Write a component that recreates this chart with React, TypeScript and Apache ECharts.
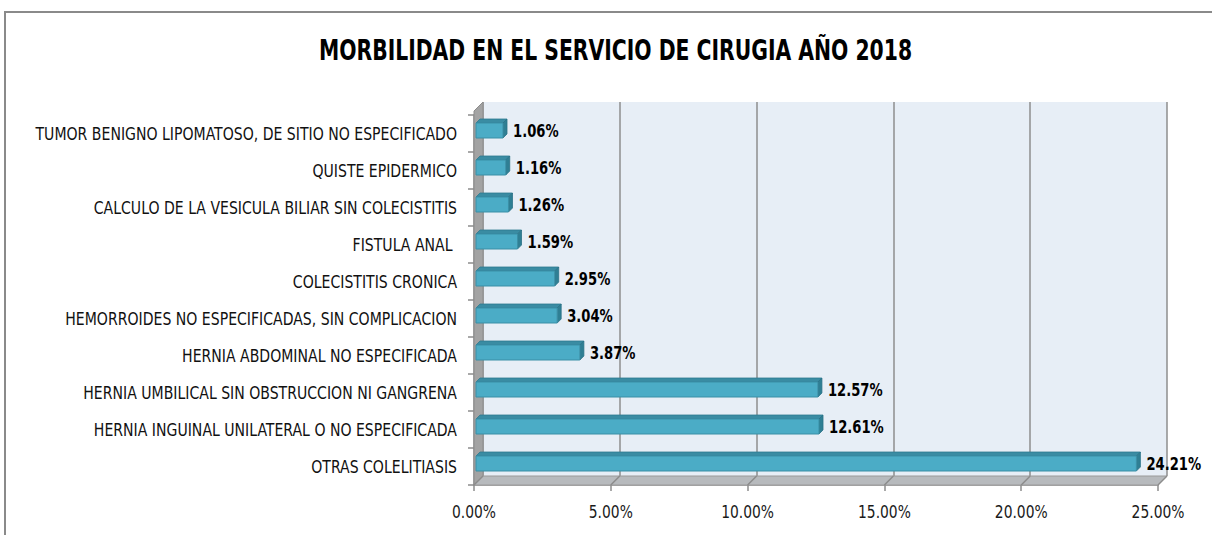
import React, { useEffect, useRef } from "react";
import * as echarts from "echarts";

const title = "MORBILIDAD EN EL SERVICIO DE CIRUGIA AÑO 2018";
const categories = [
  "OTRAS COLELITIASIS",
  "HERNIA INGUINAL UNILATERAL O NO ESPECIFICADA",
  "HERNIA UMBILICAL SIN OBSTRUCCION NI GANGRENA",
  "HERNIA ABDOMINAL NO ESPECIFICADA",
  "HEMORROIDES NO ESPECIFICADAS, SIN COMPLICACION",
  "COLECISTITIS CRONICA",
  "FISTULA ANAL ",
  "CALCULO DE LA VESICULA BILIAR SIN COLECISTITIS",
  "QUISTE EPIDERMICO",
  "TUMOR BENIGNO LIPOMATOSO, DE SITIO NO ESPECIFICADO",
];
const values = [24.21, 12.61, 12.57, 3.87, 3.04, 2.95, 1.59, 1.26, 1.16, 1.06];
const xTicks = [0, 5, 10, 15, 20, 25];

const FONT = "'DejaVu Sans Condensed', 'Liberation Sans Narrow', sans-serif";
const DEPTH = 9;
const BAR_D = 4;

export default function App() {
  const ref = useRef<HTMLDivElement>(null);
  useEffect(() => {
    document.body.style.margin = "0";
    const chart = echarts.init(ref.current!, null, { renderer: "svg" });
    const option: any = {
      animation: false,
      backgroundColor: "#ffffff",
      grid: [
        { left: 474, right: 54, top: 115, bottom: 50, containLabel: false },
        {
          left: 474 + DEPTH, right: 54 - DEPTH, top: 102, bottom: 50 + DEPTH,
          show: true, backgroundColor: "#e7eef6", borderWidth: 0, z: 0,
        },
      ],
      xAxis: [
        {
          type: "value", gridIndex: 0, min: 0, max: 25, interval: 5,
          axisLine: { show: true, lineStyle: { color: "#8c8c8c", width: 1.5 } },
          axisTick: { show: true, length: 6, lineStyle: { color: "#8c8c8c", width: 1.5 } },
          splitLine: { show: false },
          axisLabel: { show: false },
        },
        {
          type: "value", gridIndex: 1, min: 0, max: 25, interval: 5,
          axisLine: { show: false }, axisTick: { show: false }, axisLabel: { show: false },
          splitLine: { show: true, lineStyle: { color: "#8e8e8e", width: 1.5 } },
        },
      ],
      yAxis: [
        {
          type: "category", gridIndex: 0, data: categories,
          axisLine: { show: true, lineStyle: { color: "#8c8c8c", width: 1.5 } },
          axisTick: { show: true, length: 6, lineStyle: { color: "#8c8c8c", width: 1.5 } },
          axisLabel: { show: false },
        },
        {
          type: "category", gridIndex: 1, data: categories, show: false,
        },
      ],
      series: [
        {
          type: "custom",
          xAxisIndex: 0,
          yAxisIndex: 0,
          z: 10,
          data: values.map((v, i) => [v, i]),
          encode: { x: 0, y: 1 },
          renderItem: (params: any, api: any) => {
            const v = api.value(0);
            const idx = api.value(1);
            const p0 = api.coord([0, idx]);
            const p1 = api.coord([v, idx]);
            const x0 = p0[0] + 2;
            const x1 = p1[0];
            const cy = p0[1] - 3;
            const h = 15;
            const top = cy - h / 2;
            const bot = cy + h / 2;
            const d = BAR_D;
            return {
              type: "group",
              children: [
                {
                  type: "polygon",
                  shape: { points: [[x0, top], [x0 + d, top - d], [x1 + d, top - d], [x1, top]] },
                  style: { fill: "#3a8ca3", stroke: "#2f7a8f", lineWidth: 0.8 },
                },
                {
                  type: "polygon",
                  shape: { points: [[x1, top], [x1 + d, top - d], [x1 + d, bot - d], [x1, bot]] },
                  style: { fill: "#2f7f94", stroke: "#2a7186", lineWidth: 0.8 },
                },
                {
                  type: "rect",
                  shape: { x: x0, y: top, width: x1 - x0, height: h },
                  style: { fill: "#4bacc6", stroke: "#3b8fa6", lineWidth: 1 },
                },
                {
                  type: "text",
                  x: x1 + d + 6,
                  y: cy + 0.5,
                  scaleX: 0.86,
                  style: {
                    x: 0,
                    y: 0,
                    text: v.toFixed(2) + "%",
                    fontFamily: FONT,
                    fontWeight: "bold",
                    fontSize: 17,
                    fill: "#000",
                    align: "left",
                    verticalAlign: "middle",
                  },
                },
                {
                  type: "text",
                  x: p0[0] - 17,
                  y: p0[1] + 1,
                  scaleX: 0.92,
                  style: {
                    x: 0,
                    y: 0,
                    text: categories[idx],
                    fontFamily: FONT,
                    fontSize: 17,
                    fill: "#111",
                    align: "right",
                    verticalAlign: "middle",
                  },
                },
              ],
            };
          },
        },
      ],
    };
    chart.setOption(option);

    const fx = (v: number) => chart.convertToPixel({ xAxisIndex: 0 }, v) as number;
    const xl = fx(0);
    const xr = fx(25);
    const yTop = 111;
    const yBot = 485;
    const floorConnectors = xTicks.map((t) => ({
      type: "line",
      z: 5,
      shape: { x1: fx(t), y1: yBot, x2: fx(t) + DEPTH, y2: yBot - DEPTH },
      style: { stroke: "#8c8c8c", lineWidth: 1.5 },
    }));
    const tickLabels = xTicks.map((t) => ({
      type: "text",
      z: 20,
      x: fx(t),
      y: 512,
      scaleX: 0.88,
      style: {
        x: 0,
        y: 0,
        text: t.toFixed(2) + "%",
        fontFamily: FONT,
        fontSize: 17.5,
        fill: "#1a1a1a",
        align: "center",
        verticalAlign: "middle",
      },
    }));
    chart.setOption({
      graphic: [
        {
          type: "rect", z: 100, silent: true,
          shape: { x: 5, y: 12, width: 1400, height: 700 },
          style: { fill: "none", stroke: "#8a8a8a", lineWidth: 2 },
        },
        {
          type: "text", z: 20,
          x: 615.5, y: 50,
          scaleX: 0.78,
          style: {
            x: 0, y: 0, text: title, fontFamily: FONT, fontWeight: "bold",
            fontSize: 29, fill: "#000", align: "center", verticalAlign: "middle",
          },
        },
        {
          type: "polygon", z: 4,
          shape: { points: [[xl, yTop], [xl + DEPTH, yTop - DEPTH], [xl + DEPTH, yBot - DEPTH], [xl, yBot]] },
          style: { fill: "#a3a3a3", stroke: "#8c8c8c", lineWidth: 1 },
        },
        {
          type: "polygon", z: 4,
          shape: { points: [[xl, yBot], [xl + DEPTH, yBot - DEPTH], [xr + DEPTH, yBot - DEPTH], [xr, yBot]] },
          style: { fill: "#b7babd", stroke: "#9a9a9a", lineWidth: 1 },
        },
        ...floorConnectors,
        ...tickLabels,
      ],
    });
    return () => chart.dispose();
  }, []);
  return <div ref={ref} style={{ width: 1212, height: 535 }} />;
}
